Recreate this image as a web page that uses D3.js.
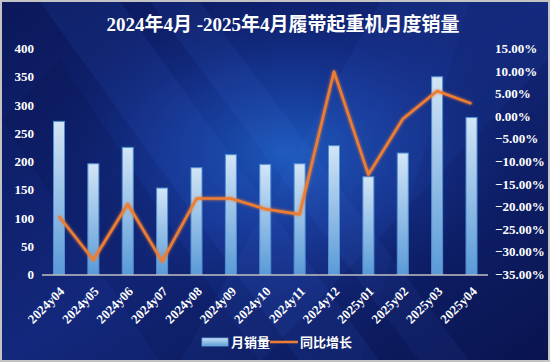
<!DOCTYPE html>
<html><head><meta charset="utf-8">
<script src="https://cdn.jsdelivr.net/npm/d3@7"></script>
<style>html,body{margin:0;padding:0;background:#fff;}svg{display:block;}</style>
</head><body>
<svg id="c" width="550" height="364"></svg>
<script>
const categories = ["2024y04","2024y05","2024y06","2024y07","2024y08","2024y09","2024y10","2024y11","2024y12","2025y01","2025y02","2025y03","2025y04"];
const sales = [271, 196, 225, 153, 189, 212, 195, 196, 228, 173, 215, 350, 278];
const yoy = [-22.1, -31.8, -19.4, -32.1, -18.2, -18.2, -20.5, -21.7, 9.9, -12.9, -0.6, 5.6, 2.8];
const leftTicks = [0,50,100,150,200,250,300,350,400];
const rightTicks = [15,10,5,0,-5,-10,-15,-20,-25,-30,-35];
const title = "2024年4月 -2025年4月履带起重机月度销量";
const legendLabels = ["月销量","同比增长"];

const svg = d3.select("#c");
const W = 550, H = 364;
const defs = svg.append("defs");

const bg = defs.append("linearGradient").attr("id","bg").attr("x1","0").attr("y1","0").attr("x2","1").attr("y2","1");
bg.append("stop").attr("offset","0").attr("stop-color","#0b185a");
bg.append("stop").attr("offset","0.5").attr("stop-color","#13287c");
bg.append("stop").attr("offset","1").attr("stop-color","#0a1550");
const glow = defs.append("radialGradient").attr("id","glow").attr("cx","0.52").attr("cy","0.42").attr("r","0.45");
glow.append("stop").attr("offset","0").attr("stop-color","#1f6ad0").attr("stop-opacity",0.75);
glow.append("stop").attr("offset","0.5").attr("stop-color","#1a48b0").attr("stop-opacity",0.45);
glow.append("stop").attr("offset","1").attr("stop-color","#102a80").attr("stop-opacity",0);
const barG = defs.append("linearGradient").attr("id","barg").attr("x1","0").attr("y1","0").attr("x2","0").attr("y2","1");
barG.append("stop").attr("offset","0").attr("stop-color","#d2e5f6");
barG.append("stop").attr("offset","1").attr("stop-color","#5a9ad8");
const lgG = defs.append("linearGradient").attr("id","lgg").attr("x1","0").attr("y1","0").attr("x2","0").attr("y2","1");
lgG.append("stop").attr("offset","0").attr("stop-color","#c5def4");
lgG.append("stop").attr("offset","1").attr("stop-color","#5f9fd9");
const f = defs.append("filter").attr("id","lglow").attr("x","-10%").attr("y","-10%").attr("width","120%").attr("height","120%");
f.append("feGaussianBlur").attr("stdDeviation",1.5).attr("result","b");
const fm = f.append("feMerge");
fm.append("feMergeNode").attr("in","b");
fm.append("feMergeNode").attr("in","SourceGraphic");

svg.append("rect").attr("x",1).attr("y",1).attr("width",W-2).attr("height",360).attr("fill","url(#bg)").attr("stroke","#c4c4c4").attr("stroke-width",2);
const clip = defs.append("clipPath").attr("id","cl");
clip.append("rect").attr("x",2).attr("y",2).attr("width",W-4).attr("height",358);
const deco = svg.append("g").attr("clip-path","url(#cl)");
deco.append("rect").attr("x",2).attr("y",2).attr("width",W-4).attr("height",358).attr("fill","url(#glow)");
const streaks = [
  {p:"M40,2 L120,2 L380,362 L300,362 Z", o:0.10, c:"#3a6ee0"},
  {p:"M150,2 L200,2 L470,362 L420,362 Z", o:0.08, c:"#4a7ef0"},
  {p:"M380,2 L548,2 L548,60 L260,362 L180,362 Z", o:0.08, c:"#3a70e0"},
  {p:"M2,120 L60,60 L260,362 L160,362 Z", o:0.14, c:"#060e40"},
  {p:"M470,2 L548,2 L548,362 L360,362 Z", o:0.10, c:"#081450"}
];
streaks.forEach(s=>deco.append("path").attr("d",s.p).attr("fill",s.c).attr("opacity",s.o));

const x = d3.scaleBand().domain(categories).range([41.8, 488.7]).paddingInner(0.68).paddingOuter(0.34);
const yL = d3.scaleLinear().domain([0,400]).range([274.5, 48.5]);
const yR = d3.scaleLinear().domain([-35,15]).range([274.5, 48.5]);

const font = "'Liberation Serif','Noto Sans CJK SC',serif";

svg.append("text").attr("x",283).attr("y",30.5).attr("text-anchor","middle")
  .attr("font-family",font).attr("font-weight","bold").attr("font-size",19).attr("fill","#fff").text(title);

svg.append("g").selectAll("text").data(leftTicks).join("text")
  .attr("x",34).attr("y",d=>yL(d)).attr("dy","0.35em").attr("text-anchor","end")
  .attr("font-family",font).attr("font-weight","bold").attr("font-size",13).attr("fill","#fff").text(d=>d);
svg.append("g").selectAll("text").data(rightTicks).join("text")
  .attr("x",495).attr("y",d=>yR(d)).attr("dy","0.35em").attr("text-anchor","start")
  .attr("font-family",font).attr("font-weight","bold").attr("font-size",13).attr("fill","#fff").text(d=>d3.format(".2f")(d)+"%");

svg.append("g").selectAll("rect").data(sales).join("rect")
  .attr("x",(d,i)=>x(categories[i])).attr("width",x.bandwidth())
  .attr("y",d=>yL(d)).attr("height",d=>yL(0)-yL(d))
  .attr("fill","url(#barg)").attr("stroke","#4f8ed0").attr("stroke-width",1);

svg.append("line").attr("x1",42).attr("x2",488).attr("y1",275).attr("y2",275).attr("stroke","#c0c0c0").attr("stroke-width",1.5);

const line = d3.line().x((d,i)=>x(categories[i])+x.bandwidth()/2).y(d=>yR(d));
svg.append("path").datum(yoy).attr("d",line).attr("fill","none").attr("stroke","#ed7d31").attr("stroke-width",2.6)
  .attr("stroke-linejoin","round").attr("filter","url(#lglow)");

svg.append("g").selectAll("text").data(categories).join("text")
  .attr("transform",d=>`translate(${x(d)+x.bandwidth()/2+3},${289}) rotate(-45)`)
  .attr("text-anchor","end").attr("dy","0.35em")
  .attr("font-family",font).attr("font-weight","bold").attr("font-size",13).attr("fill","#fff").text(d=>d);

const lg = svg.append("g");
lg.append("rect").attr("x",202).attr("y",338).attr("width",26).attr("height",8).attr("fill","url(#lgg)").attr("stroke","#6fa7dc").attr("stroke-width",0.8);
lg.append("text").attr("x",231).attr("y",342).attr("dy","0.35em").attr("font-family",font).attr("font-weight","bold").attr("font-size",13).attr("fill","#fff").text(legendLabels[0]);
lg.append("line").attr("x1",270).attr("x2",298).attr("y1",342).attr("y2",342).attr("stroke","#ed7d31").attr("stroke-width",2.6);
lg.append("text").attr("x",300).attr("y",342).attr("dy","0.35em").attr("font-family",font).attr("font-weight","bold").attr("font-size",13).attr("fill","#fff").text(legendLabels[1]);
</script>
</body></html>
